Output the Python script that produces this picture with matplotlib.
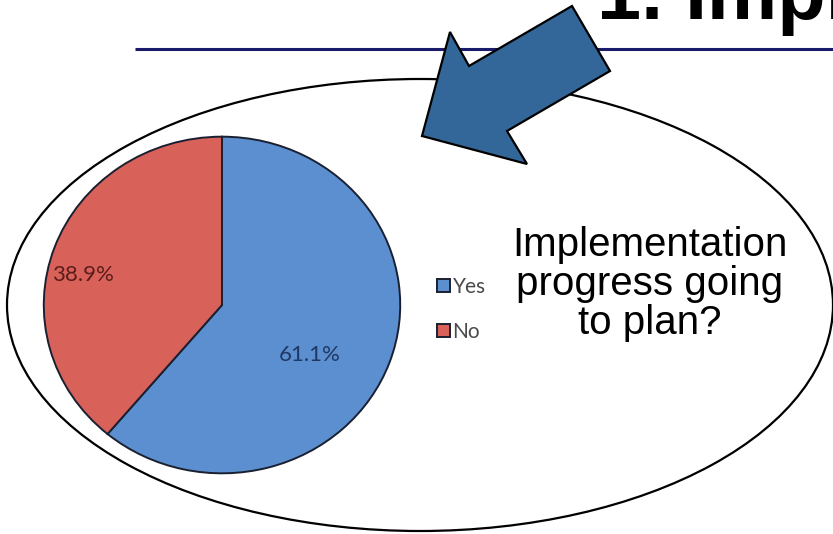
import matplotlib.pyplot as plt
from matplotlib.patches import Ellipse, Polygon

# survey answers
answers = ['Yes', 'No']
shares = [61.1, 38.9]
pie_colors = ['#5b8fd0', '#d8625a']
label_colors = ['#1f3864', '#5c1c1a']

title = '1. Implementation'
question = 'Implementation\nprogress going\nto plan?'

W, H = 833, 534
fig = plt.figure(figsize=(W / 100, H / 100), dpi=100)

# slide layer in pixel coordinates
bg = fig.add_axes([0, 0, 1, 1])
bg.set_xlim(0, W)
bg.set_ylim(H, 0)
bg.axis('off')

bg.plot([135, W], [49, 49], color='#1b1b6b', lw=2.2, solid_capstyle='butt', zorder=1)
bg.add_patch(Ellipse((420, 305), 826, 452, fill=False, ec='black', lw=1.6, zorder=2))
arrow = [(422, 136), (527, 164), (507, 131), (610, 71), (572, 6), (469, 66), (450, 32)]
bg.add_patch(Polygon(arrow, closed=True, fc='#346799', ec='black', lw=1.6,
                     joinstyle='miter', zorder=3))
bg.text(597, 19, title, fontsize=57, fontweight='bold', family='Liberation Sans',
        va='baseline', ha='left', zorder=4)
bg.text(650, 284, question, fontsize=29, family='Liberation Sans', ha='center',
        va='center', linespacing=1.02, multialignment='center', zorder=4)

# pie chart, slightly wider than tall
cx, cy, rx, ry = 222, 305, 180, 170
ax = fig.add_axes([(cx - rx) / W, 1 - (cy + ry) / H, 2 * rx / W, 2 * ry / H])
wedges, _, pcts = ax.pie(shares, colors=pie_colors, startangle=90, counterclock=False,
                         autopct='%.1f%%',
                         wedgeprops=dict(edgecolor='#1a2030', linewidth=1.4),
                         textprops=dict(family='Lato', fontsize=16))
ax.set_aspect('auto')
ax.set_xlim(-1.01, 1.01)
ax.set_ylim(-1.01, 1.01)

for t, c, pos in zip(pcts, label_colors, [(0.49, -0.30), (-0.78, 0.18)]):
    t.set_color(c)
    t.set_position(pos)

fig.legend(wedges, answers, loc='upper left', bbox_to_anchor=(437 / W, 1 - 277 / H),
           frameon=False, handlelength=0.6, handleheight=0.6, handletextpad=0.15,
           labelspacing=1.2, prop=dict(family='Lato', size=15), labelcolor='#4a4a4a',
           borderpad=0, borderaxespad=0)

fig.savefig('out.png', dpi=100)
